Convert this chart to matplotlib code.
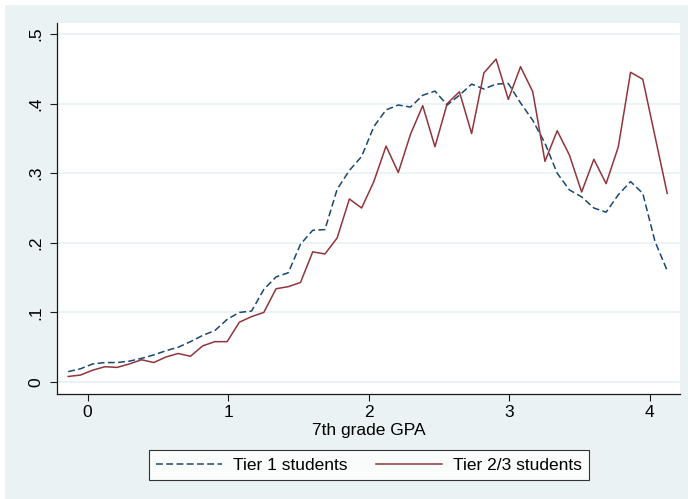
import matplotlib
matplotlib.use("Agg")
import matplotlib.pyplot as plt
from matplotlib.patches import Rectangle

gpa = [-0.138, -0.051, 0.036, 0.123, 0.210, 0.297, 0.384, 0.471, 0.558, 0.645,
       0.732, 0.819, 0.906, 0.993, 1.080, 1.167, 1.254, 1.341, 1.428, 1.515,
       1.602, 1.689, 1.776, 1.863, 1.950, 2.037, 2.124, 2.211, 2.298, 2.385,
       2.472, 2.559, 2.646, 2.733, 2.820, 2.907, 2.994, 3.081, 3.168, 3.255,
       3.342, 3.429, 3.516, 3.603, 3.690, 3.777, 3.864, 3.951, 4.038, 4.125]

tier1 = [0.015, 0.019, 0.026, 0.028, 0.028, 0.030, 0.034, 0.039, 0.045, 0.050,
         0.058, 0.067, 0.074, 0.090, 0.100, 0.102, 0.133, 0.151, 0.157, 0.198,
         0.218, 0.219, 0.277, 0.304, 0.324, 0.367, 0.391, 0.398, 0.395, 0.412,
         0.418, 0.398, 0.412, 0.428, 0.421, 0.428, 0.429, 0.401, 0.376, 0.343,
         0.300, 0.276, 0.266, 0.250, 0.244, 0.269, 0.288, 0.271, 0.202, 0.160]

tier23 = [0.008, 0.010, 0.017, 0.022, 0.021, 0.026, 0.032, 0.028, 0.036, 0.041,
          0.037, 0.052, 0.058, 0.058, 0.086, 0.094, 0.100, 0.134, 0.137, 0.143,
          0.187, 0.184, 0.207, 0.263, 0.250, 0.288, 0.339, 0.301, 0.356, 0.397,
          0.338, 0.400, 0.417, 0.357, 0.444, 0.464, 0.406, 0.453, 0.417, 0.317,
          0.361, 0.326, 0.273, 0.320, 0.285, 0.338, 0.445, 0.435, 0.353, 0.271]

xticks = [0, 1, 2, 3, 4]
xticklabels = ["0", "1", "2", "3", "4"]
yticks = [0, 0.1, 0.2, 0.3, 0.4, 0.5]
yticklabels = ["0", ".1", ".2", ".3", ".4", ".5"]
series_labels = ["Tier 1 students", "Tier 2/3 students"]

plt.rcParams['font.family'] = ['Liberation Sans', 'DejaVu Sans']
FS = 12.5
BG = "#EAF2F3"
NAVY = "#1A476F"
MAROON = "#90353B"

fig = plt.figure(figsize=(6.88, 4.99), dpi=100)
fig.patch.set_facecolor(BG)
W, H = 688, 499
# thin white outer border (top and left)
fig.patches.append(Rectangle((0, 1 - 5 / H), 1, 5 / H, transform=fig.transFigure,
                             facecolor="white", edgecolor="none", zorder=-1))
fig.patches.append(Rectangle((0, 0), 5 / W, 1, transform=fig.transFigure,
                             facecolor="white", edgecolor="none", zorder=-1))

left, right, top, bottom = 57, 680, 23, 394
ax = fig.add_axes([left / W, 1 - bottom / H, (right - left) / W, (bottom - top) / H])
ax.set_facecolor("white")

ax.set_xlim(-0.218, 4.216)
ax.set_ylim(-0.0172, 0.5158)

for yv in yticks:
    ax.axhline(yv, color=BG, lw=1.3, zorder=0)

l1, = ax.plot(gpa, tier1, color=NAVY, lw=1.1, dashes=(4.5, 2.2), zorder=3)
l2, = ax.plot(gpa, tier23, color=MAROON, lw=1.1, zorder=3)

ax.spines['top'].set_visible(False)
ax.spines['right'].set_visible(False)
for s in ['left', 'bottom']:
    ax.spines[s].set_color("#1a1a1a")
    ax.spines[s].set_linewidth(0.9)

ax.set_xticks(xticks)
ax.set_xticklabels(xticklabels, fontsize=FS)
ax.set_yticks(yticks)
ax.set_yticklabels(yticklabels, fontsize=FS, rotation=90, va='center')
ax.tick_params(axis='both', length=5, width=0.8, color="#1a1a1a")
ax.tick_params(axis='x', pad=3)
ax.tick_params(axis='y', pad=5)
ax.set_xlabel("7th grade GPA", fontsize=FS, labelpad=2)

leg = fig.legend([l1, l2], series_labels, loc='center',
                 bbox_to_anchor=(368.8 / W, 1 - 465 / H), ncol=2,
                 fontsize=FS, frameon=True, fancybox=False,
                 handlelength=3.8, handletextpad=0.63, columnspacing=1.67,
                 borderpad=0.4, borderaxespad=0)
leg.get_frame().set_edgecolor("black")
leg.get_frame().set_linewidth(0.8)
leg.get_frame().set_facecolor("white")

fig.savefig("out.png", dpi=100, facecolor=fig.get_facecolor())
